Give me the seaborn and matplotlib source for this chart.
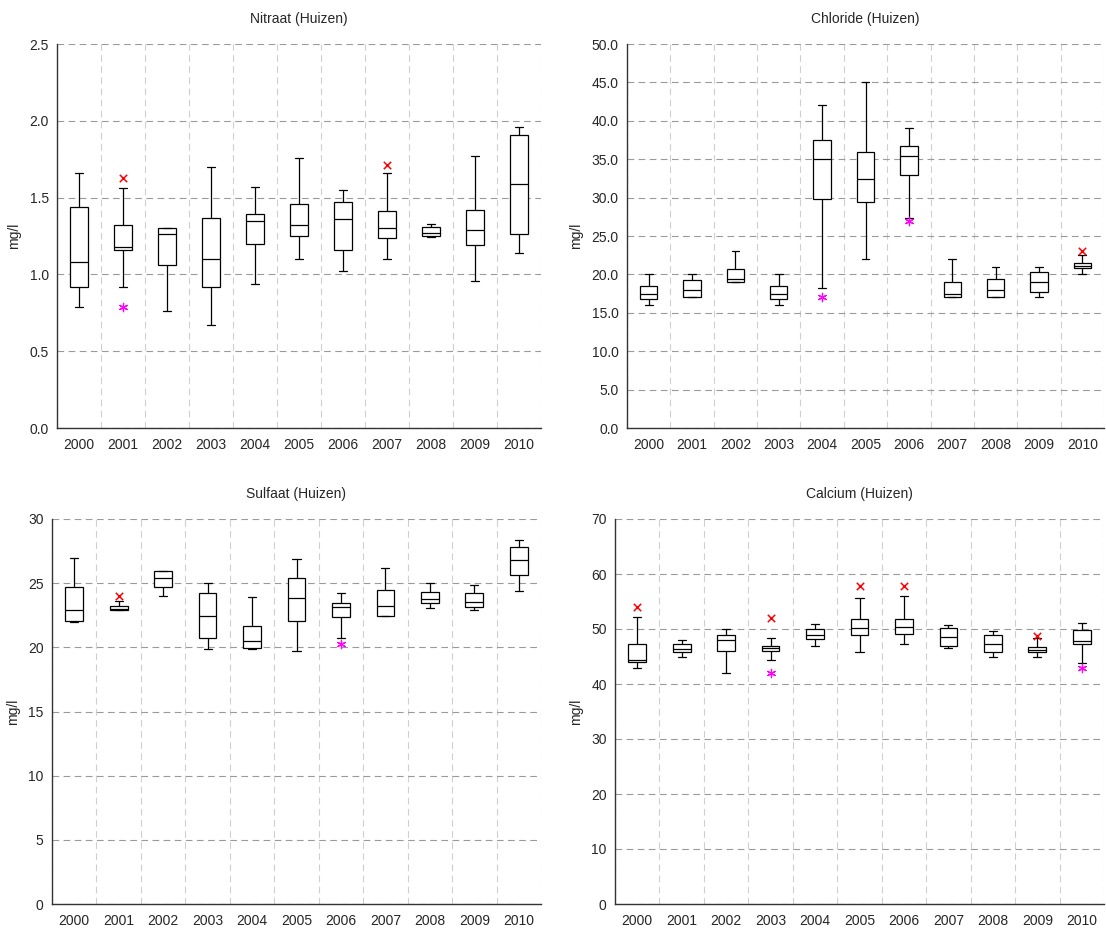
import numpy as np
import pandas as pd
import seaborn as sns
import matplotlib.pyplot as plt
from matplotlib.ticker import FormatStrFormatter, MultipleLocator

years = [str(y) for y in range(2000, 2011)]

# box statistics per year: whisker low, Q1, median, Q3, whisker high
nitraat_lo  = [0.79, 0.92, 0.76, 0.67, 0.94, 1.10, 1.02, 1.10, 1.243, 0.96, 1.14]
nitraat_q1  = [0.92, 1.16, 1.06, 0.92, 1.20, 1.25, 1.16, 1.24, 1.25, 1.19, 1.26]
nitraat_med = [1.08, 1.18, 1.26, 1.10, 1.35, 1.32, 1.36, 1.30, 1.27, 1.29, 1.59]
nitraat_q3  = [1.44, 1.32, 1.30, 1.37, 1.39, 1.46, 1.47, 1.41, 1.31, 1.42, 1.91]
nitraat_hi  = [1.66, 1.56, 1.30, 1.70, 1.57, 1.76, 1.55, 1.66, 1.33, 1.77, 1.96]
nitraat_max = [np.nan, 1.63, np.nan, np.nan, np.nan, np.nan, np.nan, 1.71, np.nan, np.nan, np.nan]
nitraat_min = [np.nan, 0.79, np.nan, np.nan, np.nan, np.nan, np.nan, np.nan, np.nan, np.nan, np.nan]

chloride_lo  = [16.0, 17.0, 19.0, 16.0, 18.2, 22.0, 27.4, 17.0, 17.0, 17.0, 20.0]
chloride_q1  = [16.8, 17.0, 19.0, 16.8, 29.8, 29.4, 33.0, 17.0, 17.0, 17.75, 20.8]
chloride_med = [17.45, 18.0, 19.4, 17.45, 35.0, 32.4, 35.45, 17.4, 18.0, 19.0, 21.1]
chloride_q3  = [18.45, 19.3, 20.75, 18.45, 37.45, 36.0, 36.75, 19.0, 19.45, 20.3, 21.45]
chloride_hi  = [20.0, 20.0, 23.0, 20.0, 42.0, 45.0, 39.0, 22.0, 21.0, 21.0, 22.5]
chloride_max = [np.nan] * 10 + [23.0]
chloride_min = [np.nan, np.nan, np.nan, np.nan, 17.0, np.nan, 27.0, np.nan, np.nan, np.nan, np.nan]

sulfaat_lo  = [22.0, 22.9, 24.0, 19.9, 19.9, 19.7, 20.7, 22.45, 23.05, 22.9, 24.4]
sulfaat_q1  = [22.03, 22.9, 24.7, 20.7, 19.92, 22.03, 22.35, 22.45, 23.45, 23.15, 25.65]
sulfaat_med = [22.9, 23.0, 25.4, 22.45, 20.5, 23.85, 23.15, 23.2, 23.8, 23.5, 26.8]
sulfaat_q3  = [24.7, 23.25, 25.95, 24.2, 21.7, 25.4, 23.45, 24.45, 24.3, 24.2, 27.8]
sulfaat_hi  = [26.95, 23.6, 25.95, 25.0, 23.95, 26.85, 24.2, 26.2, 25.05, 24.85, 28.4]
sulfaat_max = [np.nan, 24.0] + [np.nan] * 9
sulfaat_min = [np.nan] * 6 + [20.25] + [np.nan] * 4

calcium_lo  = [43.0, 45.0, 42.0, 44.4, 47.0, 45.9, 47.2, 46.5, 45.0, 45.0, 43.8]
calcium_q1  = [43.95, 45.9, 45.95, 45.95, 48.1, 49.0, 49.15, 47.0, 45.8, 45.8, 47.3]
calcium_med = [44.35, 46.35, 47.95, 46.5, 48.95, 50.1, 50.35, 48.6, 47.2, 46.25, 47.9]
calcium_q3  = [47.2, 47.2, 49.0, 46.95, 49.95, 51.75, 51.75, 50.1, 49.0, 46.75, 49.75]
calcium_hi  = [52.2, 47.95, 49.95, 48.35, 50.9, 55.7, 55.95, 50.65, 49.6, 48.3, 51.15]
calcium_max = [54.0, np.nan, np.nan, 52.0, np.nan, 57.9, 57.9, np.nan, np.nan, 48.7, np.nan]
calcium_min = [np.nan, np.nan, np.nan, 42.0] + [np.nan] * 6 + [42.9]

panels = [
    ("Nitraat (Huizen)", [nitraat_lo, nitraat_q1, nitraat_med, nitraat_q3, nitraat_hi],
     nitraat_max, nitraat_min, 2.5, 0.5, "%.1f", [57, 44, 541, 428]),
    ("Chloride (Huizen)", [chloride_lo, chloride_q1, chloride_med, chloride_q3, chloride_hi],
     chloride_max, chloride_min, 50, 5, "%.1f", [627, 44, 1104, 428]),
    ("Sulfaat (Huizen)", [sulfaat_lo, sulfaat_q1, sulfaat_med, sulfaat_q3, sulfaat_hi],
     sulfaat_max, sulfaat_min, 30, 5, "%d", [52, 519, 541, 904]),
    ("Calcium (Huizen)", [calcium_lo, calcium_q1, calcium_med, calcium_q3, calcium_hi],
     calcium_max, calcium_min, 70, 10, "%d", [615, 519, 1104, 904]),
]

sns.set_style("white")
plt.rcParams["font.family"] = ["Liberation Sans", "DejaVu Sans"]
plt.rcParams["font.size"] = 10

W, H = 1106, 933
fig = plt.figure(figsize=(W / 100, H / 100), dpi=100)

for title, stats, vmax_out, vmin_out, ymax, ystep, fmt, box in panels:
    l, t, r, b = box
    ax = fig.add_axes([l / W, (H - b) / H, (r - l) / W, (b - t) / H])

    # five values per year so the box stats come out exactly
    rows = []
    for i, yr in enumerate(years):
        for s in stats:
            rows.append({"year": yr, "value": s[i]})
    df = pd.DataFrame(rows)

    sns.boxplot(data=df, x="year", y="value", order=years, ax=ax,
                whis=(0, 100), width=0.4, color="white", linecolor="black",
                linewidth=0.9, showfliers=False, capwidths=0.18)

    pos = np.arange(len(years))
    sns.scatterplot(x=pos, y=vmax_out, ax=ax, marker="x", color="red",
                    s=28, linewidth=1.1, zorder=5)
    sns.scatterplot(x=pos, y=vmin_out, ax=ax, marker=(6, 2, 0), color="magenta",
                    s=36, linewidth=0.9, zorder=5)

    ax.set_ylim(0, ymax)
    ax.set_xlim(-0.5, len(years) - 0.5)
    ax.yaxis.set_major_locator(MultipleLocator(ystep))
    ax.yaxis.set_major_formatter(FormatStrFormatter(fmt))

    ax.set_xticks(np.arange(-0.5, len(years), 1))
    ax.set_xticklabels([])
    ax.set_xticks(pos, minor=True)
    ax.set_xticklabels(years, minor=True)
    ax.tick_params(axis="x", which="minor", length=0, pad=7, labelsize=10)
    ax.tick_params(axis="x", which="major", length=4, width=0.9, color="#333333", direction="out")
    ax.tick_params(axis="y", length=4, width=0.9, color="#333333", direction="out", labelsize=10, pad=2)

    ax.set_axisbelow(True)
    ax.grid(axis="y", which="major", linestyle=(0, (6, 4)), color="#9a9a9a", linewidth=0.8)
    ax.grid(axis="x", which="major", linestyle=(0, (6, 4)), color="#cfcfcf", linewidth=0.8)

    for sp in ["top", "right"]:
        ax.spines[sp].set_visible(False)
    for sp in ["left", "bottom"]:
        ax.spines[sp].set_color("#333333")
        ax.spines[sp].set_linewidth(1.0)

    ax.set_xlabel("")
    ax.set_ylabel("mg/l", fontsize=10, labelpad=6)
    ax.set_title(title, fontsize=10, pad=15)

fig.savefig("out.png", dpi=100)
